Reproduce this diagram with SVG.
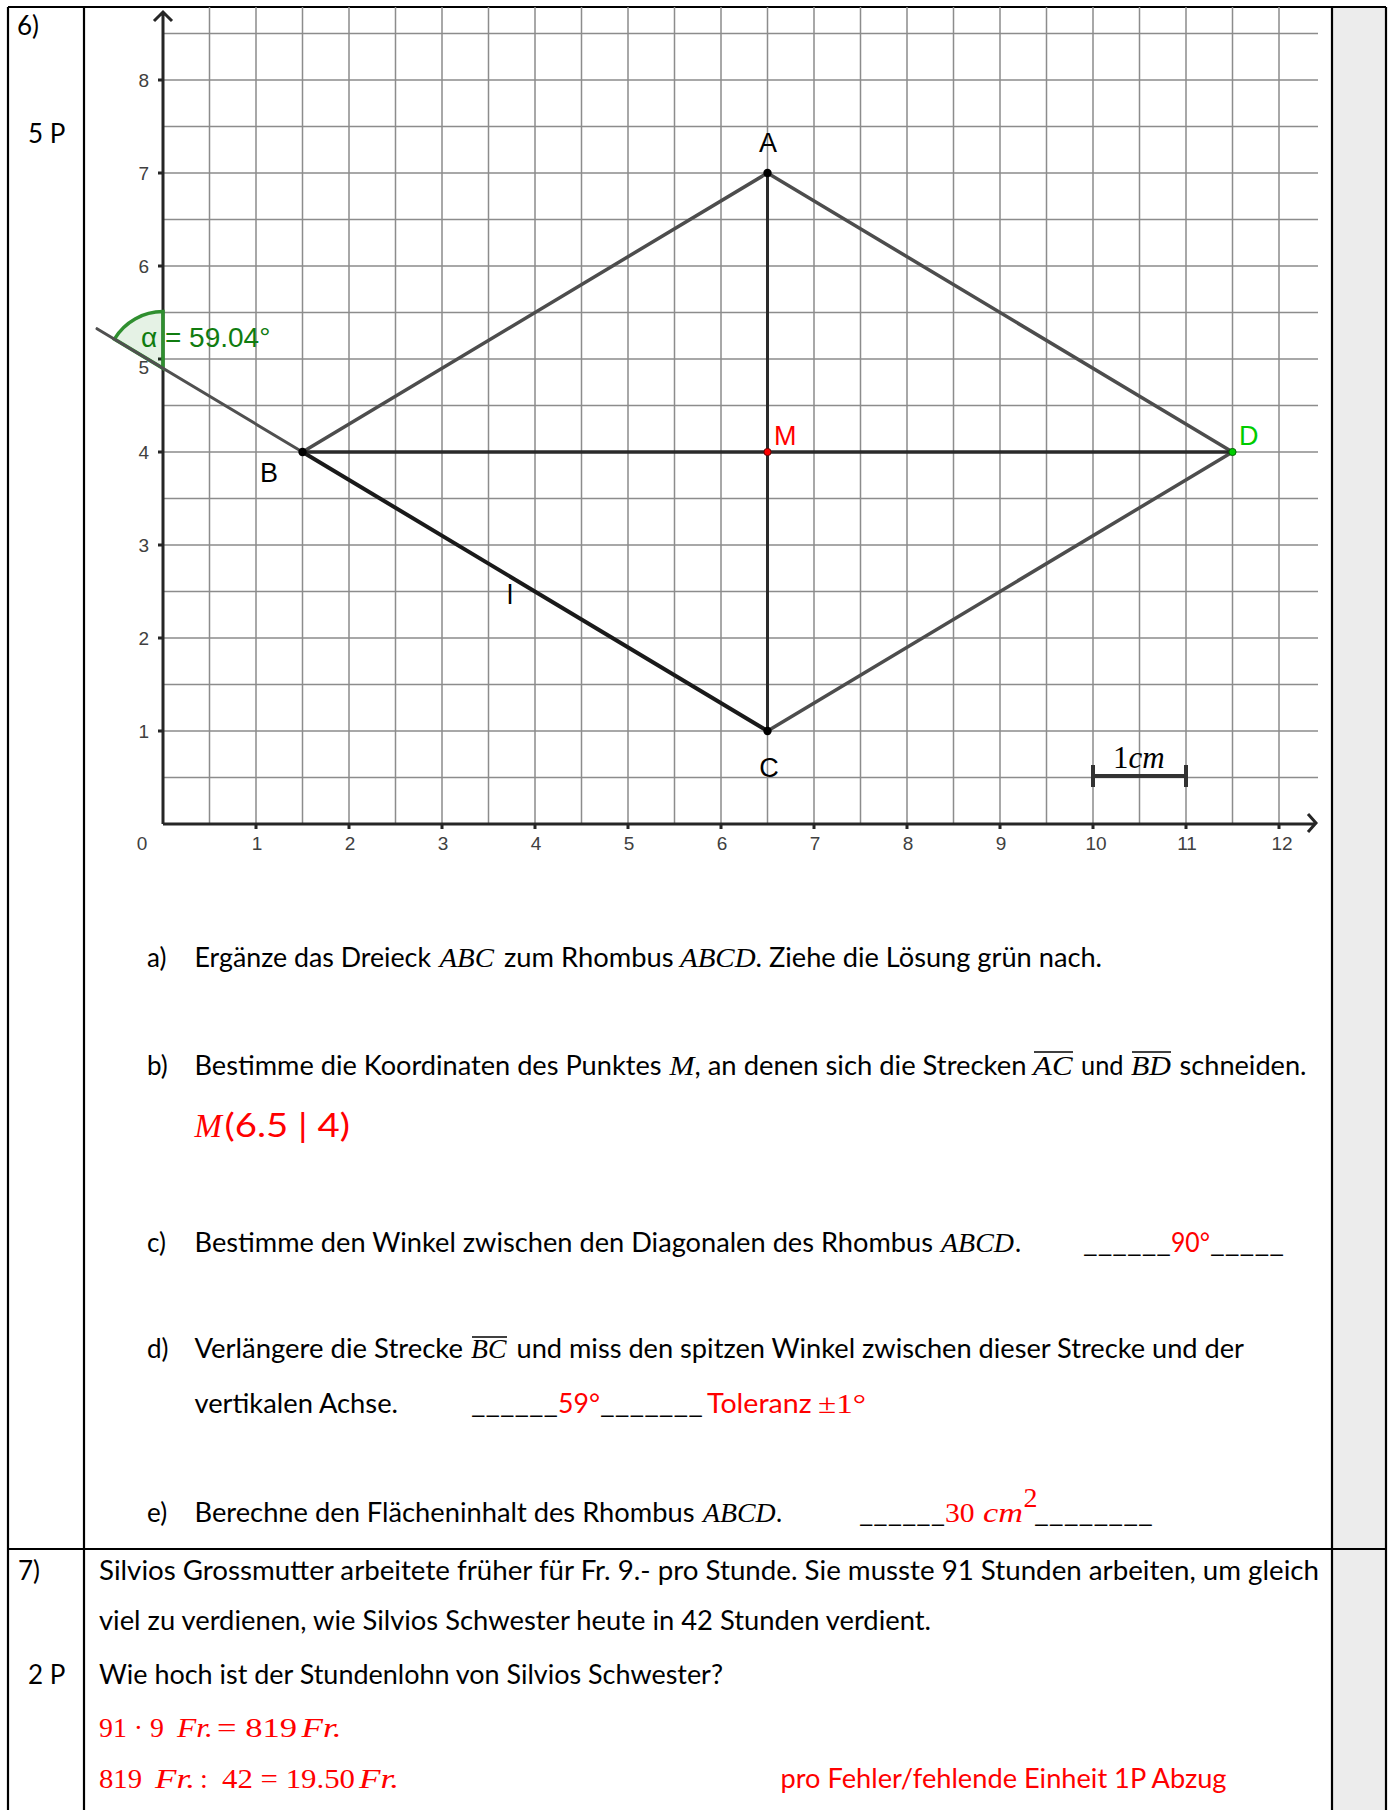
<svg xmlns="http://www.w3.org/2000/svg" width="1389" height="1810" viewBox="0 0 1389 1810">
<style>
.grid{stroke:#8c8c8c;stroke-width:1.5;fill:none}
.axis{stroke:#262626;stroke-width:3;fill:none}
.tab{stroke:#000;stroke-width:2.2;fill:none}
.t{font-family:Lato,"Liberation Sans",sans-serif;font-size:26px;fill:#000}
.m{font-family:"Liberation Serif",serif;font-style:italic;font-size:28px}
.s{font-family:"Liberation Serif",serif;font-size:28px}
.red{fill:#ff0000}
.gg{font-family:"Liberation Sans",Arial,sans-serif;font-size:27px}
.ax{font-family:"Liberation Sans",Arial,sans-serif;font-size:19px;fill:#404040}
.seg{fill:none;stroke-linecap:round}
</style>
<rect width="1389" height="1810" fill="#fff"/>
<g id="table">
<rect x="1333" y="7" width="52" height="1803" fill="#ececec"/>
<path class="tab" d="M8,7 H1386 M8,7 V1810 M84,7 V1810 M1332,7 V1810 M1386,7 V1810 M8,1549 H1386"/>
<text class="t" x="17" y="35">6)</text>
<text class="t" x="28" y="143">5 P</text>
<text class="t" x="18" y="1580">7)</text>
<text class="t" x="28" y="1684">2 P</text>
</g>
<g id="grid">
<path class="grid" d="M209.5,7V824M256,7V824M302.5,7V824M349,7V824M395.5,7V824M442,7V824M488.5,7V824M535,7V824M581.5,7V824M628,7V824M674.5,7V824M721,7V824M767.5,7V824M814,7V824M860.5,7V824M907,7V824M953.5,7V824M1000,7V824M1046.5,7V824M1093,7V824M1139.5,7V824M1186,7V824M1232.5,7V824M1279,7V824"/>
<path class="grid" d="M163,777.5H1318M163,731H1318M163,684.5H1318M163,638H1318M163,591.5H1318M163,545H1318M163,498.5H1318M163,452H1318M163,405.5H1318M163,359H1318M163,312.5H1318M163,266H1318M163,219.5H1318M163,173H1318M163,126.5H1318M163,80H1318M163,33.5H1318"/>
</g>
<g id="axes">
<path class="axis" d="M163,824V12M154,21L163,12L172,21M163,824H1316M1308,814L1316,823L1308,832"/>
<path class="axis" stroke-width="2.5" d="M158,80H163M158,173H163M158,266H163M158,359H163M158,452H163M158,545H163M158,638H163M158,731H163M256,824V829M349,824V829M442,824V829M535,824V829M628,824V829M721,824V829M814,824V829M907,824V829M1000,824V829M1093,824V829M1186,824V829M1279,824V829"/>
<g class="ax" text-anchor="end">
<text x="149" y="87">8</text><text x="149" y="180">7</text><text x="149" y="273">6</text><text x="149" y="374">5</text><text x="149" y="459">4</text><text x="149" y="552">3</text><text x="149" y="645">2</text><text x="149" y="738">1</text>
</g>
<g class="ax" text-anchor="middle">
<text x="142" y="850">0</text><text x="257" y="850">1</text><text x="350" y="850">2</text><text x="443" y="850">3</text><text x="536" y="850">4</text><text x="629" y="850">5</text><text x="722" y="850">6</text><text x="815" y="850">7</text><text x="908" y="850">8</text><text x="1001" y="850">9</text><text x="1096" y="850">10</text><text x="1187" y="850">11</text><text x="1282" y="850">12</text>
</g>
</g>
<g id="angle">
<path d="M163,368.3 L163,311.6 A56.7,56.7 0 0 0 114.4,339.1 Z" fill="#008000" fill-opacity="0.1" stroke="#2f8f2f" stroke-width="3.5"/>
<text x="141" y="347" font-family="Liberation Sans, Arial, sans-serif" font-size="28" fill="#107c10">α = 59.04°</text>
</g>
<g id="connectors">
<path class="seg" stroke="#505050" stroke-width="3" d="M97,328.7L302.5,452"/>
<path class="seg" stroke="#4d4d4d" stroke-width="3.5" d="M302.5,452L767.5,173L1232.5,452L767.5,731"/>
<path class="seg" stroke="#2a2a2a" stroke-width="3" d="M767.5,173V731"/>
<path class="seg" stroke="#2a2a2a" stroke-width="3.5" d="M302.5,452H1232.5"/>
<path class="seg" stroke="#1a1a1a" stroke-width="4" d="M302.5,452L767.5,731"/>
</g>
<g id="scale">
<path stroke="#333" stroke-width="4" fill="none" d="M1093,776H1186M1093,765V787M1186,765V787"/>
<text x="1113" y="768" font-family="Liberation Serif, serif" font-size="31" fill="#000">1<tspan font-style="italic">cm</tspan></text>
</g>
<g id="pointA"><circle cx="767.5" cy="173" r="4.2" fill="#000"/><text class="gg" x="768" y="152" text-anchor="middle">A</text></g>
<g id="pointB"><circle cx="302.5" cy="452" r="4.2" fill="#000"/><text class="gg" x="269" y="482" text-anchor="middle">B</text></g>
<g id="pointC"><circle cx="767.5" cy="731" r="4.2" fill="#000"/><text class="gg" x="769" y="777" text-anchor="middle">C</text></g>
<g id="pointM"><circle cx="767.5" cy="452" r="3.6" fill="#ff0000" stroke="#600" stroke-width="1"/><text class="gg" x="774" y="445" fill="#ff0000">M</text></g>
<g id="pointD"><circle cx="1232.5" cy="452" r="3.6" fill="#00cc00" stroke="#060" stroke-width="1"/><text class="gg" x="1239" y="445" fill="#00cc00">D</text></g>
<g id="labelL"><text class="gg" x="510" y="604" text-anchor="middle">l</text></g>
<g id="taskA">
<text class="t" x="147" y="967">a)</text>
<text class="t" x="194.5" y="967" textLength="236.5" lengthAdjust="spacingAndGlyphs">Ergänze das Dreieck</text>
<text class="m" x="439.5" y="967" textLength="54.5" lengthAdjust="spacingAndGlyphs">ABC</text>
<text class="t" x="504" y="967" textLength="169.6" lengthAdjust="spacingAndGlyphs">zum Rhombus</text>
<text class="m" x="680" y="967" textLength="75.6" lengthAdjust="spacingAndGlyphs">ABCD</text>
<text class="t" x="755.6" y="967" textLength="346.4" lengthAdjust="spacingAndGlyphs">. Ziehe die Lösung grün nach.</text>
</g>
<g id="taskB">
<text class="t" x="147" y="1075">b)</text>
<text class="t" x="194.5" y="1075" textLength="467" lengthAdjust="spacingAndGlyphs">Bestimme die Koordinaten des Punktes</text>
<text class="m" x="669.5" y="1075" textLength="25" lengthAdjust="spacingAndGlyphs">M</text>
<text class="t" x="694.5" y="1075" textLength="332" lengthAdjust="spacingAndGlyphs">, an denen sich die Strecken</text>
<text class="m" x="1033" y="1075" textLength="39.5" lengthAdjust="spacingAndGlyphs">AC</text>
<text class="t" x="1081" y="1075" textLength="42.5" lengthAdjust="spacingAndGlyphs">und</text>
<text class="m" x="1131" y="1075" textLength="40" lengthAdjust="spacingAndGlyphs">BD</text>
<text class="t" x="1179.5" y="1075" textLength="127" lengthAdjust="spacingAndGlyphs">schneiden.</text>
<path stroke="#000" stroke-width="1.6" d="M1034,1052H1073M1132,1052H1171"/>
<text x="194.5" y="1137" class="red"><tspan font-family="Liberation Serif, serif" font-style="italic" font-size="33">M</tspan></text>
<text x="224.6" y="1137" class="red" font-family="Lato, Liberation Sans, sans-serif" font-size="33" textLength="125.4" lengthAdjust="spacingAndGlyphs">(6.5 | 4)</text>
</g>
<g id="taskC">
<text class="t" x="147" y="1252">c)</text>
<text class="t" x="194.5" y="1252" textLength="738.5" lengthAdjust="spacingAndGlyphs">Bestimme den Winkel zwischen den Diagonalen des Rhombus</text>
<text class="m" x="941" y="1252" textLength="73" lengthAdjust="spacingAndGlyphs">ABCD</text>
<text class="t" x="1015" y="1252">.</text>
<text class="t" x="1083" y="1252" textLength="88" lengthAdjust="spacingAndGlyphs">______</text>
<text class="t red" x="1171" y="1252" textLength="39" lengthAdjust="spacingAndGlyphs">90°</text>
<text class="t" x="1210" y="1252" textLength="74" lengthAdjust="spacingAndGlyphs">_____</text>
</g>
<g id="taskD">
<text class="t" x="147" y="1358">d)</text>
<text class="t" x="194.5" y="1358" textLength="268.5" lengthAdjust="spacingAndGlyphs">Verlängere die Strecke</text>
<text class="m" x="471" y="1358" textLength="35.4" lengthAdjust="spacingAndGlyphs">BC</text>
<path stroke="#000" stroke-width="1.6" d="M472,1337H507"/>
<text class="t" x="516.5" y="1358" textLength="727.5" lengthAdjust="spacingAndGlyphs">und miss den spitzen Winkel zwischen dieser Strecke und der</text>
<text class="t" x="194.5" y="1413" textLength="203.5" lengthAdjust="spacingAndGlyphs">vertikalen Achse.</text>
<text class="t" x="471" y="1413" textLength="87" lengthAdjust="spacingAndGlyphs">______</text>
<text class="t red" x="558" y="1413" textLength="42" lengthAdjust="spacingAndGlyphs">59°</text>
<text class="t" x="600" y="1413" textLength="103" lengthAdjust="spacingAndGlyphs">_______</text>
<text class="t red" x="707" y="1413" textLength="104.6" lengthAdjust="spacingAndGlyphs">Toleranz</text>
<text class="s red" x="818" y="1413" textLength="48" lengthAdjust="spacingAndGlyphs">±1°</text>
</g>
<g id="taskE">
<text class="t" x="147" y="1522">e)</text>
<text class="t" x="194.5" y="1522" textLength="500" lengthAdjust="spacingAndGlyphs">Berechne den Flächeninhalt des Rhombus</text>
<text class="m" x="703" y="1522" textLength="72.6" lengthAdjust="spacingAndGlyphs">ABCD</text>
<text class="t" x="776" y="1522">.</text>
<text class="t" x="859" y="1522" textLength="86" lengthAdjust="spacingAndGlyphs">______</text>
<text class="s red" x="945" y="1522" textLength="29.6" lengthAdjust="spacingAndGlyphs">30</text>
<text class="m red" x="983" y="1522" textLength="40" lengthAdjust="spacingAndGlyphs">cm</text>
<text class="s red" x="1023.5" y="1507" font-size="17">2</text>
<text class="t" x="1034" y="1522" textLength="119" lengthAdjust="spacingAndGlyphs">________</text>
</g>
<g id="task7">
<text class="t" x="99" y="1580" textLength="1220" lengthAdjust="spacingAndGlyphs">Silvios Grossmutter arbeitete früher für Fr. 9.- pro Stunde. Sie musste 91 Stunden arbeiten, um gleich</text>
<text class="t" x="99" y="1630" textLength="832" lengthAdjust="spacingAndGlyphs">viel zu verdienen, wie Silvios Schwester heute in 42 Stunden verdient.</text>
<text class="t" x="99" y="1684" textLength="624" lengthAdjust="spacingAndGlyphs">Wie hoch ist der Stundenlohn von Silvios Schwester?</text>
<text class="s red" x="99" y="1737" textLength="65" lengthAdjust="spacingAndGlyphs">91 · 9</text>
<text class="m red" x="177" y="1737" textLength="36" lengthAdjust="spacingAndGlyphs">Fr.</text>
<text class="s red" x="217" y="1737" textLength="80" lengthAdjust="spacingAndGlyphs">= 819</text>
<text class="m red" x="301.5" y="1737" textLength="40" lengthAdjust="spacingAndGlyphs">Fr.</text>
<text class="s red" x="99" y="1788" textLength="43" lengthAdjust="spacingAndGlyphs">819</text>
<text class="m red" x="155" y="1788" textLength="40" lengthAdjust="spacingAndGlyphs">Fr.</text>
<text class="s red" x="200" y="1788">:</text>
<text class="s red" x="222" y="1788" textLength="133" lengthAdjust="spacingAndGlyphs">42 = 19.50</text>
<text class="m red" x="359" y="1788" textLength="40" lengthAdjust="spacingAndGlyphs">Fr.</text>
<text class="t red" x="780.5" y="1788" textLength="446" lengthAdjust="spacingAndGlyphs">pro Fehler/fehlende Einheit 1P Abzug</text>
</g>
</svg>
